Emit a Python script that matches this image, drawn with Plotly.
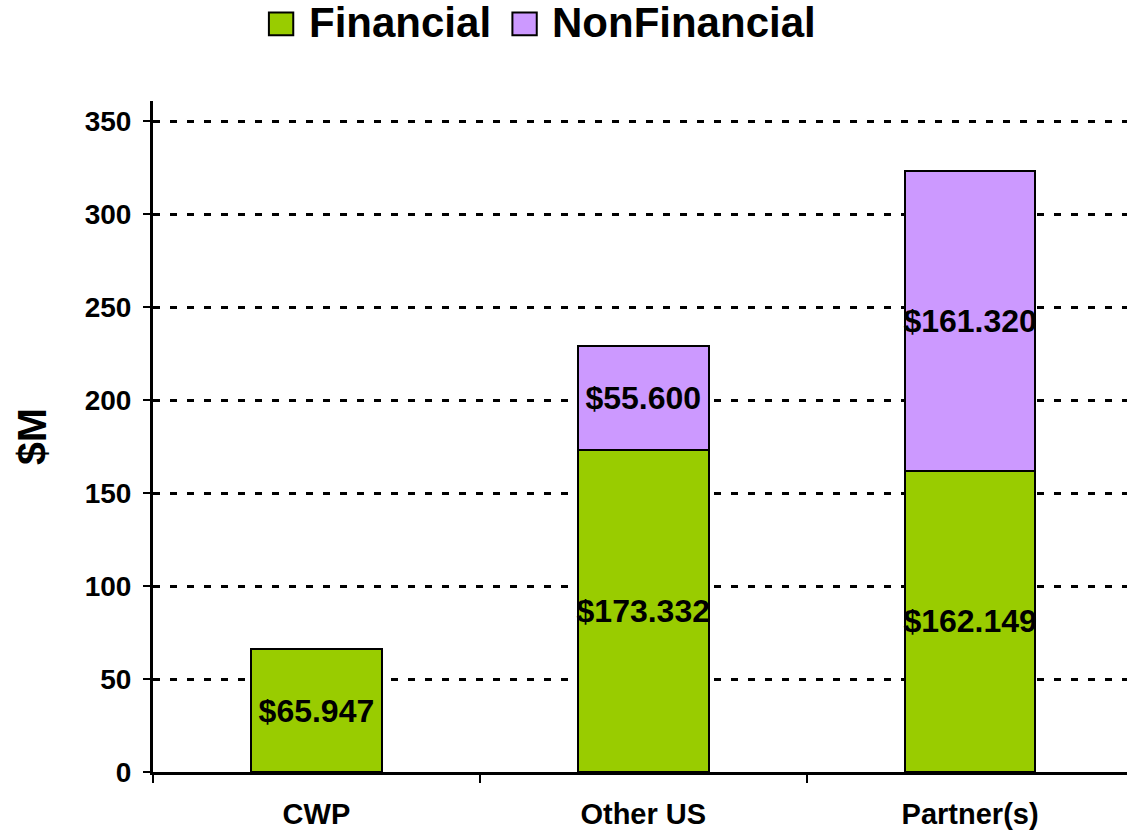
import plotly.graph_objects as go

categories = ["CWP", "Other US", "Partner(s)"]
financial = [65.947, 173.332, 162.149]
nonfinancial = [None, 55.600, 161.320]
series_names = ["Financial", "NonFinancial"]
colors = ["#99CC00", "#CC99FF"]
tick_values = [0, 50, 100, 150, 200, 250, 300, 350]

FONT = "Arial, 'Liberation Sans', sans-serif"


def money(vals):
    return ["" if v is None else "${:.3f}".format(v) for v in vals]


fig = go.Figure()
for name, vals, col in zip(series_names, [financial, nonfinancial], colors):
    fig.add_trace(go.Bar(
        x=categories, y=vals, name=name, width=0.4,
        marker=dict(color=col, line=dict(color="black", width=2)),
        text=money(vals), textposition="inside", insidetextanchor="middle",
        textangle=0, constraintext="none",
        insidetextfont=dict(family=FONT, size=32, color="black", weight="bold"),
        showlegend=False,
    ))

# legend drawn by hand so the swatches can be as big as the reference
legend_sq = [0.119, 0.369]
legend_txt = [0.158, 0.408]
for name, col, sx, tx in zip(series_names, colors, legend_sq, legend_txt):
    fig.add_shape(type="rect", xref="paper", yref="paper",
                  x0=sx, x1=sx + 0.025, y0=1.098, y1=1.132,
                  fillcolor=col, line=dict(color="black", width=2))
    fig.add_annotation(xref="paper", yref="paper", x=tx, y=1.117,
                       text=name, showarrow=False, xanchor="left", yanchor="middle",
                       font=dict(family=FONT, size=42, color="black", weight="bold"))

fig.update_layout(
    width=1127, height=830,
    margin=dict(l=153, r=0, t=101, b=54),
    barmode="stack",
    plot_bgcolor="white", paper_bgcolor="white",
    font=dict(family=FONT, color="black", weight="bold"),
)
fig.update_xaxes(
    range=[-0.5, 2.48], showline=True, linecolor="black", linewidth=3,
    ticks="outside", tickson="boundaries", ticklen=8, tickwidth=2, tickcolor="black",
    tickfont=dict(size=29, weight="bold"), ticklabelstandoff=14, showgrid=False,
)
fig.update_yaxes(
    range=[0, 361], tickvals=tick_values, showline=True, linecolor="black", linewidth=3,
    ticks="outside", ticklen=7, tickwidth=2, tickcolor="black",
    tickfont=dict(size=28, weight="bold"), ticklabelstandoff=6,
    showgrid=True, gridcolor="black", gridwidth=2.5, griddash="7px,10px",
    zeroline=False,
    title=dict(text="$M", font=dict(size=41, weight="bold"), standoff=26),
)

fig.write_html("out.html", config={"displayModeBar": False},
               post_script="document.body.style.margin='0';")
